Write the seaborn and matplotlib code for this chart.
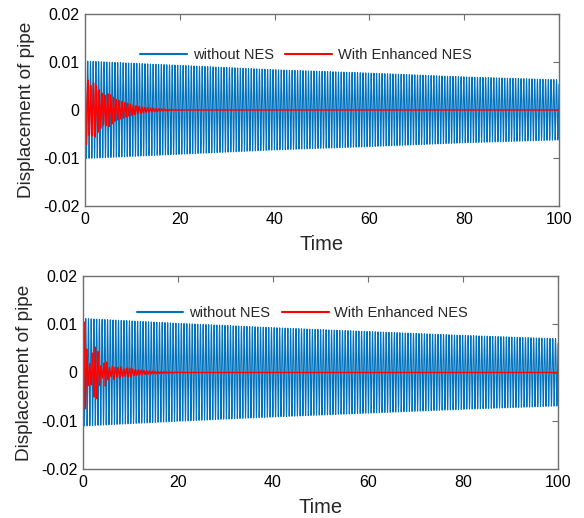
import numpy as np
import pandas as pd
import matplotlib
matplotlib.use("Agg")
import matplotlib.pyplot as plt
from matplotlib.ticker import FuncFormatter
import seaborn as sns

# ---- data ----
t_start, t_end = 0.0, 100.0
x_ticks = [0, 20, 40, 60, 80, 100]
y_ticks = [-0.02, -0.01, 0.0, 0.01, 0.02]
labels = ["without NES", "With Enhanced NES"]

# blue (without NES): oscillation envelope and period
blue_period = 0.575
blue_env_t = [0, 20, 40, 60, 80, 100]
blue_top_env = [0.0102, 0.0093, 0.0084, 0.0077, 0.0069, 0.0063]
blue_bot_env = [0.0112, 0.0102, 0.0093, 0.0085, 0.0077, 0.0070]

# red (with enhanced NES): envelope lobes and period
red_period = 0.6
red_top_t = [0, 0.3, 1.0, 2.0, 3.0, 4.0, 5.0, 6.5, 8.0, 10.0, 12.0, 15.0, 18.0, 22.0, 100.0]
red_top_a = [0.0095, 0.0072, 0.0050, 0.0058, 0.0042, 0.0030, 0.0035, 0.0022, 0.0017,
             0.0011, 0.0006, 0.0003, 0.0001, 0.0, 0.0]
red_bot_t = [0, 0.2, 0.5, 1.0, 1.5, 2.2, 3.0, 3.6, 4.0, 4.7, 5.3, 5.8, 6.4, 7.0,
             7.8, 8.5, 9.5, 11.0, 13.0, 16.0, 19.0, 23.0, 100.0]
red_bot_a = [0.0, 0.0105, 0.0075, 0.0030, 0.0015, 0.0050, 0.0055, 0.0020, 0.0008,
             0.0028, 0.0015, 0.0007, 0.0016, 0.0008, 0.0013, 0.0007, 0.0010, 0.0006,
             0.0004, 0.0002, 0.0001, 0.0, 0.0]
red_top_phase = 0.0
red_bot_phase = 0.2

blue_color = "#0072BD"
red_color = "#FF0000"

# ---- build signals ----
t = np.linspace(t_start, t_end, 4001)

def blue_sig(env):
    return np.interp(t, blue_env_t, env) * np.cos(2 * np.pi * t / blue_period)

def red_sig(tt, aa, ph):
    return np.interp(t, tt, aa) * np.cos(2 * np.pi * (t - ph) / red_period)

panels = [
    (blue_sig(blue_top_env), red_sig(red_top_t, red_top_a, red_top_phase)),
    (blue_sig(blue_bot_env), red_sig(red_bot_t, red_bot_a, red_bot_phase)),
]

sns.set_style("white")
plt.rcParams["font.family"] = ["Liberation Sans", "DejaVu Sans"]

fig = plt.figure(figsize=(5.84, 5.18), dpi=100)
axes_pos = [
    [85 / 584, 1 - 206 / 518, 474 / 584, 192 / 518],
    [83 / 584, 1 - 469 / 518, 475 / 584, 193 / 518],
]
legend_pos = [(0.466, 0.785), (0.462, 0.81)]

fmt = FuncFormatter(lambda v, p: "0" if abs(v) < 1e-12 else ("%.2f" % v))

for pos, (yb, yr), lp in zip(axes_pos, panels, legend_pos):
    ax = fig.add_axes(pos)
    df_b = pd.DataFrame({"Time": t, "Displacement": yb})
    df_r = pd.DataFrame({"Time": t, "Displacement": yr})
    sns.lineplot(data=df_b, x="Time", y="Displacement", ax=ax, color=blue_color,
                 lw=0.8, estimator=None, label=labels[0])
    sns.lineplot(data=df_r, x="Time", y="Displacement", ax=ax, color=red_color,
                 lw=1.0, estimator=None, label=labels[1])
    ax.set_xlim(0, 100)
    ax.set_ylim(-0.02, 0.02)
    ax.set_xticks(x_ticks)
    ax.set_yticks(y_ticks)
    ax.yaxis.set_major_formatter(fmt)
    ax.tick_params(direction="in", length=4, width=0.8, top=True, right=True,
                   labelsize=11.5, colors="#6f6f6f", labelcolor="black", pad=4)
    for s in ax.spines.values():
        s.set_color("#6f6f6f")
        s.set_linewidth(1.0)
    ax.set_xlabel("Time", fontsize=14.5, labelpad=6)
    ax.set_ylabel("Displacement of pipe", fontsize=13.7, labelpad=6)
    leg = ax.legend(loc="center", bbox_to_anchor=lp, ncol=2, frameon=False,
                    fontsize=10.5, handlelength=3.2, handletextpad=0.4,
                    columnspacing=0.8)
    for h in leg.get_lines():
        h.set_linewidth(1.5)

fig.savefig("out.png", dpi=100)
